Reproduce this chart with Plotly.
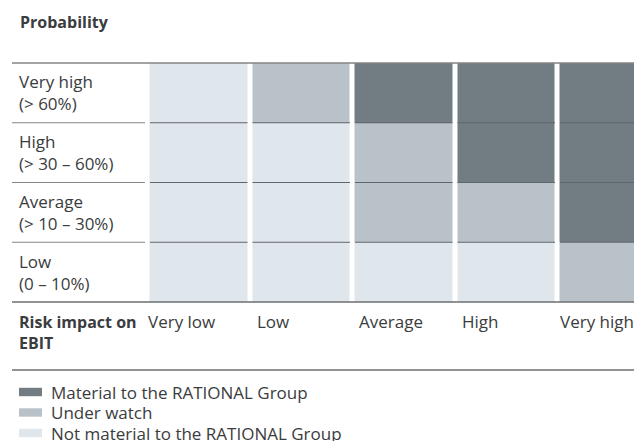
import plotly.graph_objects as go

# ---- data ----
impact_labels = ["Very low", "Low", "Average", "High", "Very high"]
prob_labels = ["Low<br>(0 – 10%)", "Average<br>(> 10 – 30%)", "High<br>(> 30 – 60%)", "Very high<br>(> 60%)"]
# 0 = not material, 1 = under watch, 2 = material  (rows: Low -> Very high)
risk_low = [0, 0, 0, 0, 1]
risk_average = [0, 0, 1, 1, 2]
risk_high = [0, 0, 1, 2, 2]
risk_very_high = [0, 1, 2, 2, 2]
legend_labels = ["Material to the RATIONAL Group", "Under watch", "Not material to the RATIONAL Group"]
y_title = "Probability"
x_title = "Risk impact on<br>EBIT"

# ---- style ----
C_LIGHT = "#e0e7ec"
C_MID = "#bac2c9"
C_DARK = "#727c83"
TXT = "#3a3c3d"
FONT = "Open Sans"
W, H = 642, 441
OFF = 8                 # page offset of the figure in the window
PL = 147.5              # plot area left (window px)
PT, PB = 63.0, 302.0    # plot area top/bottom (window px)
PITCH = 102.5           # pixels per column
GAP = 5
LABEL_XSHIFT = [-2, 5, 4, 5, 0]
FS = 17
FS_BOLD = 16

def fx(px):
    return (px - OFF) / W

def fy(py):
    return 1 - (py - OFF) / H

z = [risk_low, risk_average, risk_high, risk_very_high]
ncol = len(impact_labels)
nrow = len(z)

fig = go.Figure(go.Heatmap(
    z=z,
    x=list(range(ncol)),
    y=list(range(nrow)),
    zmin=0, zmax=2,
    colorscale=[[0, C_LIGHT], [0.5, C_MID], [1, C_DARK]],
    showscale=False,
    xgap=GAP, ygap=0,
    hoverinfo="skip",
))

PR = W + OFF
xmax = -0.5 + (PR - PL) / PITCH
fig.update_xaxes(range=[-0.5, xmax], domain=[fx(PL), 1], visible=False, fixedrange=True)
fig.update_yaxes(range=[-0.5, nrow - 0.5], domain=[fy(PB), fy(PT)], visible=False, fixedrange=True)

shapes = []
LINE_GREY = "#858585"
for py, col in [(PT, LINE_GREY), (PB, "#6b6f72"), (370, "#6b6f72")]:
    shapes.append(dict(type="line", xref="paper", yref="paper", x0=fx(12), x1=fx(650),
                       y0=fy(py), y1=fy(py), line=dict(color=col, width=1.5)))
gu = GAP / PITCH
for r in range(1, nrow):
    yb = r - 0.5
    shapes.append(dict(type="line", xref="paper", yref="y", x0=fx(12), x1=fx(145),
                       y0=yb, y1=yb, line=dict(color=LINE_GREY, width=1.2)))
    for c in range(ncol):
        shapes.append(dict(type="line", xref="x", yref="y", x0=c - 0.5 + gu / 2, x1=c + 0.5 - gu / 2,
                           y0=yb, y1=yb, line=dict(color="#5f666b", width=1.2)))

annotations = []
annotations.append(dict(text="<b>" + y_title + "</b>", xref="paper", yref="paper", x=fx(18), y=fy(22),
                        xanchor="left", yanchor="middle", showarrow=False,
                        font=dict(family=FONT, size=FS_BOLD, color=TXT)))
for r, lab in enumerate(prob_labels):
    annotations.append(dict(text=lab, xref="paper", yref="y", x=fx(17), y=r,
                            xanchor="left", yanchor="middle", align="left", showarrow=False,
                            font=dict(family=FONT, size=FS, color=TXT)))
for c, lab in enumerate(impact_labels):
    annotations.append(dict(text=lab, xref="x", yref="paper", x=c - 0.5, y=fy(308),
                            xanchor="left", yanchor="top", align="left", showarrow=False,
                            xshift=LABEL_XSHIFT[c],
                            font=dict(family=FONT, size=FS, color=TXT)))
annotations.append(dict(text="<b>" + x_title.replace("<br>", "</b><br><b>") + "</b>", xref="paper", yref="paper",
                        x=fx(17), y=fy(309), xanchor="left", yanchor="top", align="left", showarrow=False,
                        font=dict(family=FONT, size=FS_BOLD, color=TXT)))

legend_colors = [C_DARK, C_MID, C_LIGHT]
for i, (lab, col) in enumerate(zip(legend_labels, legend_colors)):
    cy = 392 + 20.5 * i
    shapes.append(dict(type="rect", xref="paper", yref="paper", x0=fx(19), x1=fx(42),
                       y0=fy(cy - 4.2), y1=fy(cy + 4.2), fillcolor=col, line=dict(width=0)))
    annotations.append(dict(text=lab, xref="paper", yref="paper", x=fx(49), y=fy(cy),
                            xanchor="left", yanchor="middle", showarrow=False,
                            font=dict(family=FONT, size=FS, color=TXT)))

fig.update_layout(
    width=W, height=H,
    margin=dict(l=0, r=0, t=0, b=0),
    paper_bgcolor="white", plot_bgcolor="white",
    shapes=shapes, annotations=annotations,
    showlegend=False,
)

fig.write_html("out.html")
